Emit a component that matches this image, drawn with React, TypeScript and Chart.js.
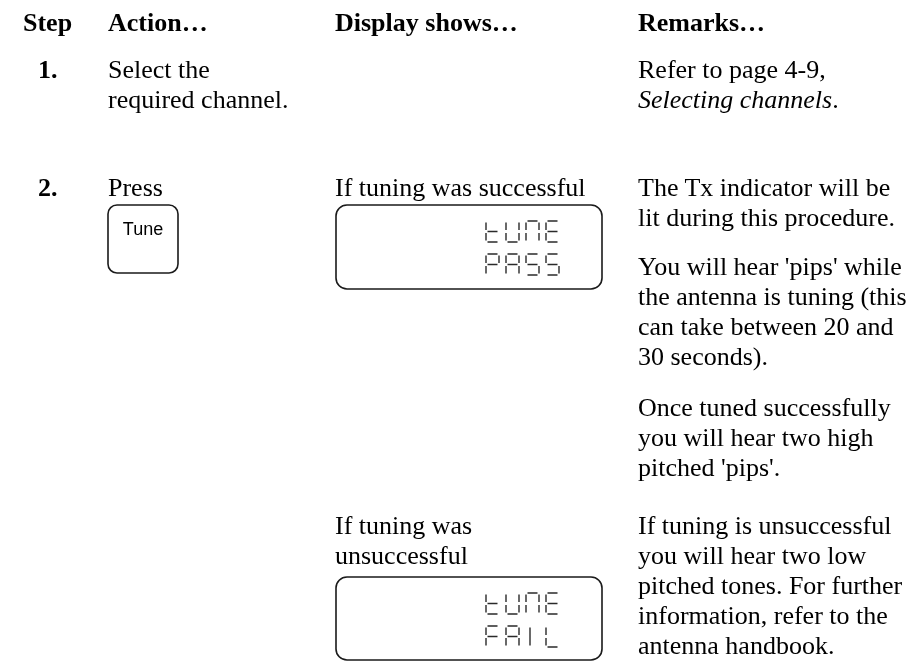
import React, { useEffect, useRef } from "react";
import { Chart, registerables } from "chart.js";

Chart.register(...registerables);

// ---------- content ----------
const HEADERS = ["Step", "Action…", "Display shows…", "Remarks…"];
const STEP_NUMBERS = ["1.", "2."];
const ACTION_STEP1 = ["Select the", "required channel."];
const ACTION_STEP2 = ["Press"];
const BUTTON_LABEL = "Tune";
const REMARK_STEP1 = ["Refer to page 4-9,"];
const REMARK_STEP1_ITALIC = "Selecting channels";
const DISPLAY_CAPTION_OK = ["If tuning was successful"];
const DISPLAY_CAPTION_FAIL = ["If tuning was", "unsuccessful"];
const LCD_OK = ["tUnE", "PASS"];
const LCD_FAIL = ["tUnE", "FAIL"];
const REMARKS_STEP2 = [
  ["The Tx indicator will be", "lit during this procedure."],
  ["You will hear 'pips' while", "the antenna is tuning (this", "can take between 20 and", "30 seconds)."],
  ["Once tuned successfully", "you will hear two high", "pitched 'pips'."],
  ["If tuning is unsuccessful", "you will hear two low", "pitched tones. For further", "information, refer to the", "antenna handbook."],
];

// ---------- layout ----------
const W = 916;
const H = 670;
const COL_X = [23, 108, 335, 638];
const NUM_X = 38;
const LINE_H = 30;
const FONT_SIZE = 26;
const SERIF = "'Liberation Serif', 'Times New Roman', serif";
const SANS = "'Liberation Sans', Arial, sans-serif";
const BASE_OFF = 24; // baseline offset within a 30px line
const REMARK_BASELINES = [197, 276, 417, 535];

const BUTTON_BOX = { x: 108, y: 205, w: 70, h: 68, r: 9 };
const DISPLAY_BOXES = [
  { x: 336, y: 205, w: 266, h: 84, r: 11, lines: LCD_OK },
  { x: 336, y: 577, w: 266, h: 83, r: 11, lines: LCD_FAIL },
];
const LCD_CELL = { offX: 150, rowTop: [16, 49], w: 13, h: 21, pitch: 20 };

// 7-segment map
const SEGMENTS: Record<string, string[]> = {
  t: ["f", "e", "g", "d"],
  U: ["f", "e", "d", "c", "b"],
  n: ["a", "b", "c", "e", "f"],
  E: ["a", "f", "e", "g", "d"],
  P: ["a", "b", "f", "g", "e"],
  A: ["a", "b", "c", "e", "f", "g"],
  S: ["a", "f", "g", "c", "d"],
  F: ["a", "f", "g", "e"],
  I: ["i"],
  L: ["f", "e", "d"],
};

function roundRect(ctx: CanvasRenderingContext2D, x: number, y: number, w: number, h: number, r: number) {
  ctx.beginPath();
  ctx.moveTo(x + r, y);
  ctx.lineTo(x + w - r, y);
  ctx.arcTo(x + w, y, x + w, y + r, r);
  ctx.lineTo(x + w, y + h - r);
  ctx.arcTo(x + w, y + h, x + w - r, y + h, r);
  ctx.lineTo(x + r, y + h);
  ctx.arcTo(x, y + h, x, y + h - r, r);
  ctx.lineTo(x, y + r);
  ctx.arcTo(x, y, x + r, y, r);
  ctx.closePath();
  ctx.stroke();
}

function drawGlyph(ctx: CanvasRenderingContext2D, ch: string, x0: number, y0: number, w: number, h: number) {
  const segs = SEGMENTS[ch] || [];
  const g = 1.5;
  const m = y0 + h / 2;
  const coords: Record<string, number[]> = {
    a: [x0 + g, y0, x0 + w - g, y0],
    b: [x0 + w, y0 + g, x0 + w, m - g],
    c: [x0 + w, m + g, x0 + w, y0 + h - g],
    d: [x0 + g, y0 + h, x0 + w - g, y0 + h],
    e: [x0, m + g, x0, y0 + h - g],
    f: [x0, y0 + g, x0, m - g],
    g: [x0 + g, m, x0 + w - g, m],
    i: [x0 + 4, y0 + g, x0 + 4, y0 + h - g],
  };
  ctx.beginPath();
  for (const s of segs) {
    const c = coords[s];
    ctx.moveTo(c[0], c[1]);
    ctx.lineTo(c[2], c[3]);
  }
  ctx.stroke();
}

const panelPlugin = {
  id: "panelPlugin",
  afterDraw(chart: any) {
    const ctx: CanvasRenderingContext2D = chart.ctx;
    ctx.save();
    ctx.strokeStyle = "#1a1a1a";
    ctx.lineWidth = 1.6;
    roundRect(ctx, BUTTON_BOX.x, BUTTON_BOX.y, BUTTON_BOX.w, BUTTON_BOX.h, BUTTON_BOX.r);
    for (const b of DISPLAY_BOXES) {
      ctx.lineWidth = 1.6;
      ctx.strokeStyle = "#1a1a1a";
      roundRect(ctx, b.x, b.y, b.w, b.h, b.r);
      ctx.lineWidth = 1.4;
      ctx.strokeStyle = "#2a2a2a";
      b.lines.forEach((line, li) => {
        for (let i = 0; i < line.length; i++) {
          drawGlyph(
            ctx,
            line[i],
            b.x + LCD_CELL.offX + i * LCD_CELL.pitch,
            b.y + LCD_CELL.rowTop[li],
            LCD_CELL.w,
            LCD_CELL.h
          );
        }
      });
    }
    ctx.restore();
  },
};

function Lines({ x, baseline, lines, bold }: { x: number; baseline: number; lines: string[]; bold?: boolean }) {
  return (
    <div
      style={{
        position: "absolute",
        left: x,
        top: baseline - BASE_OFF,
        fontFamily: SERIF,
        fontSize: FONT_SIZE,
        lineHeight: LINE_H + "px",
        fontWeight: bold ? "bold" : "normal",
        whiteSpace: "nowrap",
        color: "#000",
      }}
    >
      {lines.map((l, i) => (
        <div key={i}>{l}</div>
      ))}
    </div>
  );
}

export default function App() {
  const canvasRef = useRef<HTMLCanvasElement | null>(null);

  useEffect(() => {
    if (!canvasRef.current) return;
    const chart = new Chart(canvasRef.current, {
      type: "scatter",
      data: { datasets: [] },
      options: {
        responsive: false,
        animation: false,
        events: [],
        layout: { padding: 0 },
        plugins: { legend: { display: false }, tooltip: { enabled: false }, title: { display: false } },
        scales: { x: { display: false }, y: { display: false } },
      },
      plugins: [panelPlugin],
    });
    return () => chart.destroy();
  }, []);

  return (
    <div style={{ position: "absolute", left: 0, top: 0, width: W, height: H, background: "#fff", overflow: "hidden" }}>
      <canvas ref={canvasRef} width={W} height={H} style={{ position: "absolute", left: 0, top: 0, width: W, height: H }} />
      {HEADERS.map((h, i) => (
        <Lines key={h} x={COL_X[i]} baseline={32} lines={[h]} bold />
      ))}
      <Lines x={NUM_X} baseline={79} lines={[STEP_NUMBERS[0]]} bold />
      <Lines x={COL_X[1]} baseline={79} lines={ACTION_STEP1} />
      <div
        style={{
          position: "absolute",
          left: COL_X[3],
          top: 79 - BASE_OFF,
          fontFamily: SERIF,
          fontSize: FONT_SIZE,
          lineHeight: LINE_H + "px",
          whiteSpace: "nowrap",
        }}
      >
        {REMARK_STEP1.map((l, i) => (
          <div key={i}>{l}</div>
        ))}
        <div>
          <i>{REMARK_STEP1_ITALIC}</i>.
        </div>
      </div>

      <Lines x={NUM_X} baseline={197} lines={[STEP_NUMBERS[1]]} bold />
      <Lines x={COL_X[1]} baseline={197} lines={ACTION_STEP2} />
      <div
        style={{
          position: "absolute",
          left: BUTTON_BOX.x,
          width: BUTTON_BOX.w,
          top: 235 - 16,
          textAlign: "center",
          fontFamily: SANS,
          fontSize: 18,
          lineHeight: "20px",
          color: "#000",
        }}
      >
        {BUTTON_LABEL}
      </div>
      <Lines x={COL_X[2]} baseline={197} lines={DISPLAY_CAPTION_OK} />
      <Lines x={COL_X[2]} baseline={535} lines={DISPLAY_CAPTION_FAIL} />
      {REMARKS_STEP2.map((p, i) => (
        <Lines key={i} x={COL_X[3]} baseline={REMARK_BASELINES[i]} lines={p} />
      ))}
    </div>
  );
}
